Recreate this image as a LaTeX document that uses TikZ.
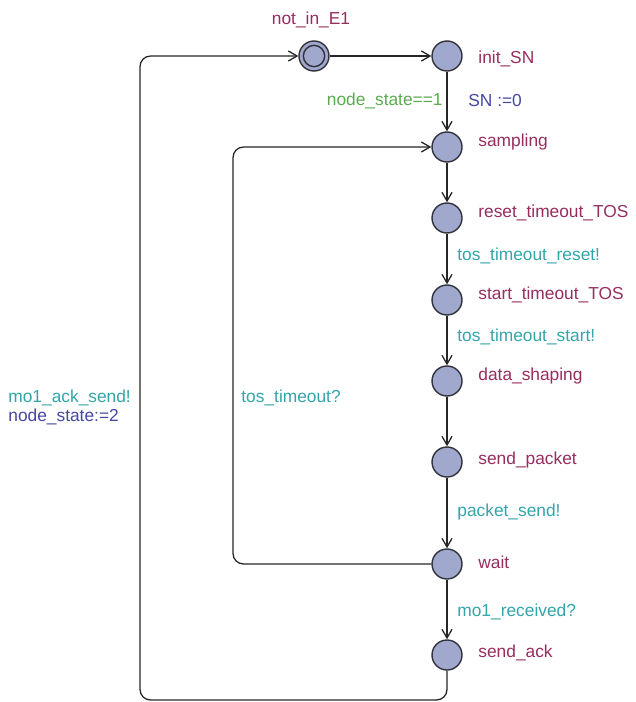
\documentclass[tikz,border=0pt]{standalone}
\usepackage{fontspec}
\setmainfont{Liberation Sans}
\usetikzlibrary{arrows.meta}

\definecolor{locname}{RGB}{150,45,95}
\definecolor{guardc}{RGB}{90,170,80}
\definecolor{assignc}{RGB}{70,70,165}
\definecolor{syncc}{RGB}{50,165,170}
\definecolor{locfill}{RGB}{160,168,206}
\definecolor{locline}{RGB}{50,50,60}

\tikzset{
	loc/.style={circle, draw=locline, line width=1.2pt, fill=locfill, minimum size=0.9cm, inner sep=0pt},
	locin/.style={circle, draw=locline, line width=1.2pt, minimum size=0.64cm, inner sep=0pt},
	lname/.style={text=locname, anchor=west, inner sep=1pt},
	guard/.style={text=guardc, inner sep=1pt},
	assign/.style={text=assignc, inner sep=1pt},
	sync/.style={text=syncc, inner sep=1pt},
	edge/.style={line width=1.1pt, draw=black!85, ->, >={Straight Barb[length=2.6mm,width=3mm]}}
}

\begin{document}
\begin{tikzpicture}[x=0.03cm, y=-0.03cm, font=\fontsize{14.8}{17}\selectfont]
			\useasboundingbox (0,0) rectangle (635,702);

			% locations
			\node[loc] (nin) at (314,56) {};
			\node[locin] (ninr) at (314,56) {};
			\node[loc] (init) at (447,56) {};
			\node[loc] (samp) at (447,147) {};
			\node[loc] (reset) at (447,218) {};
			\node[loc] (start) at (447,300) {};
			\node[loc] (shape) at (447,381) {};
			\node[loc] (send) at (447,462) {};
			\node[loc] (wait) at (447,564) {};
			\node[loc] (ack) at (447,655) {};

			% location names
			\node[text=locname] (l-nin) at (311,20) {not\_in\_E1};
			\node[lname] (l-init) at (477,59) {init\_SN};
			\node[lname] (l-samp) at (477,142) {sampling};
			\node[lname] (l-reset) at (477,213) {reset\_timeout\_TOS};
			\node[lname] (l-start) at (477,295) {start\_timeout\_TOS};
			\node[lname] (l-shape) at (477,376) {data\_shaping};
			\node[lname] (l-send) at (477,460) {send\_packet};
			\node[lname] (l-wait) at (477,562) {wait};
			\node[lname] (l-ack) at (477,653) {send\_ack};

			% edges
			\draw[edge] (nin) -- (init);
			\draw[edge] (init) -- (samp);
			\draw[edge] (samp) -- (reset);
			\draw[edge] (reset) -- (start);
			\draw[edge] (start) -- (shape);
			\draw[edge] (shape) -- (send);
			\draw[edge] (send) -- (wait);
			\draw[edge] (wait) -- (ack);

			\coordinate (inl) at (233,564);
			\coordinate (outl) at (140,700);
			\draw[edge, rounded corners=9] (wait) -- (inl) -- (inl |- samp) -- (samp);
			\draw[edge, rounded corners=9] (ack) -- (ack |- outl) -- (outl) -- (outl |- nin) -- (nin);

			% edge labels
			\node[guard, anchor=east] (g-init) at (444,101) {node\_state==1};
			\node[assign, anchor=west] (a-init) at (467,101) {SN :=0};
			\node[sync, anchor=west] (s-reset) at (456,256) {tos\_timeout\_reset!};
			\node[sync, anchor=west] (s-start) at (456,337) {tos\_timeout\_start!};
			\node[sync, anchor=west] (s-send) at (456,512) {packet\_send!};
			\node[sync, anchor=west] (s-wait) at (456,612) {mo1\_received?};
			\node[sync, anchor=west] (s-loop) at (240,398) {tos\_timeout?};
			\node[sync, anchor=west] (s-ack) at (7,398) {mo1\_ack\_send!};
			\node[assign, anchor=west] (a-ack) at (7,417) {node\_state:=2};
		\end{tikzpicture}
\end{document}
